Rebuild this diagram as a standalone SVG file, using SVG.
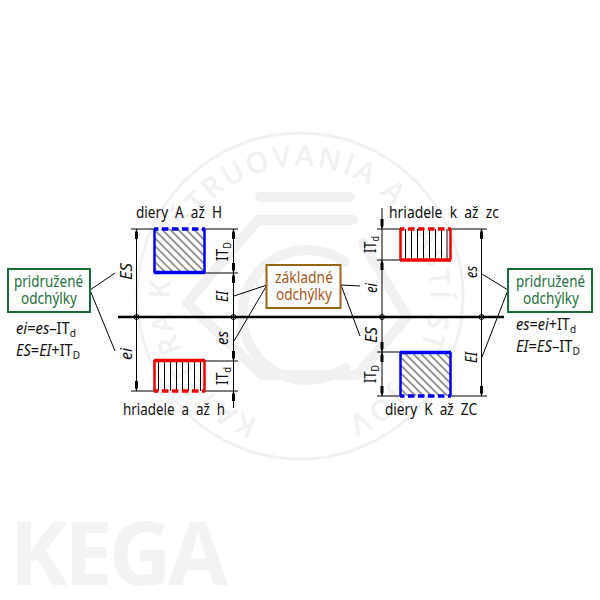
<svg xmlns="http://www.w3.org/2000/svg" width="600" height="600" viewBox="0 0 600 600">
<style>
text{font-family:"Noto Sans","Liberation Sans",sans-serif;font-size:16px;fill:#111}
.i{font-style:italic}
.g{fill:#1f7040}
.b{fill:#a5581a}
.wm{font-family:"Open Sans","Liberation Sans",sans-serif;font-size:29px;fill:#f1f1f1;font-weight:600}
.dim{stroke:#000;stroke-width:1;fill:none}
.ext{stroke:#000;stroke-width:1;fill:none}
.lead{stroke:#000;stroke-width:1;fill:none}
.box{fill:#fff;stroke-width:2}
.mark{fill:none;stroke:#000;stroke-width:1}
.wl{fill:none;stroke:#f1f1f1;stroke-width:10;stroke-linecap:round;stroke-linejoin:round}
.bl{stroke:#0000f0;fill:none}
.rd{stroke:#f00000;fill:none}
.sub{font-size:11px}
</style>
<defs>
<path id="ring" d="M258 419A130 130 0 1 1 342 419"/>
<pattern id="hatch" width="5.600" height="5.600" patternUnits="userSpaceOnUse" patternTransform="rotate(-45)"><line x1="2.800" y1="0" x2="2.800" y2="5.600" stroke="#000" stroke-width="0.800"/></pattern>
<marker id="ah" viewBox="0 0 12 6" refX="12" refY="3" markerWidth="12" markerHeight="6" markerUnits="userSpaceOnUse" orient="auto-start-reverse"><path d="M12 3L8.500 1.500H2V4.500H8.500Z" fill="#000"/></marker>
</defs>
<g id="watermark">
<circle cx="300" cy="296" r="163" fill="none" stroke="#f1f1f1" stroke-width="3"/>
<text class="wm" textLength="725"><textPath href="#ring">KATEDRA KONŠTRUOVANIA A ČASTÍ STROJOV</textPath></text>
<path class="wl" d="M260 197H350M258 220H353M258 220L187 303L262 375H357L407 317L363 243"/>
<path class="wl" d="M345 262A65 65 0 1 0 345 368"/>
<text x="10" y="585" style="font-family:'Open Sans','Noto Sans',sans-serif;font-size:87px;font-weight:700;fill:#f3f3f3" textLength="218">KEGA</text>
</g>
<g id="connectors">
<line x1="118" y1="317" x2="504" y2="317" stroke="#000" stroke-width="2.500"/>
<path class="ext" d="M131 229H154M205 229H238M205 273H238M131 391H154M205 361H238M205 391H238M377 229H400M377 260H400M451 229H487M377 352H400M377 396H400M451 396H487"/>
<line class="dim" x1="136.500" y1="229" x2="136.500" y2="317" marker-start="url(#ah)"/>
<line class="dim" x1="136.500" y1="317" x2="136.500" y2="391" marker-end="url(#ah)"/>
<line class="dim" x1="233.500" y1="229" x2="233.500" y2="273" marker-start="url(#ah)" marker-end="url(#ah)"/>
<line class="dim" x1="233.500" y1="317" x2="233.500" y2="273" marker-end="url(#ah)"/>
<line class="dim" x1="233.500" y1="317" x2="233.500" y2="361" marker-end="url(#ah)"/>
<line class="dim" x1="233.500" y1="361" x2="233.500" y2="391"/>
<line class="dim" x1="233.500" y1="408" x2="233.500" y2="391" marker-end="url(#ah)"/>
<line class="dim" x1="382" y1="208" x2="382" y2="229" marker-end="url(#ah)"/>
<line class="dim" x1="382" y1="229" x2="382" y2="260"/>
<line class="dim" x1="382" y1="317" x2="382" y2="260" marker-end="url(#ah)"/>
<line class="dim" x1="382" y1="317" x2="382" y2="352" marker-end="url(#ah)"/>
<line class="dim" x1="382" y1="352" x2="382" y2="396" marker-start="url(#ah)" marker-end="url(#ah)"/>
<line class="dim" x1="481.500" y1="317" x2="481.500" y2="229" marker-end="url(#ah)"/>
<line class="dim" x1="481.500" y1="317" x2="481.500" y2="396" marker-end="url(#ah)"/>
<path class="lead" d="M115 273L90 290L115 351M234 296L267 285L234 341M360 286L341 285L360 336M482 274L508 290L482 357"/>
<circle class="mark" cx="136.500" cy="317" r="2.500"/><circle class="mark" cx="233.500" cy="317" r="2.500"/><circle class="mark" cx="382" cy="317" r="2.500"/><circle class="mark" cx="481.500" cy="317" r="2.500"/>
</g>
<g id="hole-upper">
<rect x="154.500" y="229" width="50" height="44" fill="#fff"/>
<rect x="154.500" y="229" width="50" height="44" fill="url(#hatch)"/>
<path class="bl" stroke-width="2.500" d="M154.500 229V273M204.500 229V273"/>
<path class="bl" stroke-width="3.500" d="M154 272.500H205"/>
<path class="bl" stroke-width="3.500" stroke-dasharray="4.500 3.400 6.600 3.400 6.600 3.400 6.600 3.400 6.600 3.400 4.500" d="M154 229H205"/>
</g>
<g id="shaft-lower">
<path stroke="#000" stroke-width="1" d="M158.500 361V391M164.500 361V391M170.500 361V391M176.500 361V391M182.500 361V391M188.500 361V391M194.500 361V391M200.500 361V391"/>
<path class="rd" stroke-width="2.500" d="M154.500 360V391M204.500 360V391"/>
<path class="rd" stroke-width="3.500" d="M154 360.500H205"/>
<path class="rd" stroke-width="3.500" stroke-dasharray="4.500 3.400 6.600 3.400 6.600 3.400 6.600 3.400 6.600 3.400 4.500" d="M154 391H205"/>
</g>
<g id="shaft-upper">
<path stroke="#000" stroke-width="1" d="M405.500 229V260M411.500 229V260M417.500 229V260M423.500 229V260M429.500 229V260M435.500 229V260M441.500 229V260M447 229V260"/>
<path class="rd" stroke-width="2.500" d="M400.500 229V260M450.500 229V260"/>
<path class="rd" stroke-width="3.500" d="M400 260H451"/>
<path class="rd" stroke-width="3.500" stroke-dasharray="4.500 3.400 6.600 3.400 6.600 3.400 6.600 3.400 6.600 3.400 4.500" d="M400 229H451"/>
</g>
<g id="hole-lower">
<rect x="400.500" y="352" width="50" height="44" fill="#fff"/>
<rect x="400.500" y="352" width="50" height="44" fill="url(#hatch)"/>
<path class="bl" stroke-width="2.500" d="M400.500 352V396M450.500 352V396"/>
<path class="bl" stroke-width="3.500" d="M400 352.500H451"/>
<path class="bl" stroke-width="3.500" stroke-dasharray="4.500 3.400 6.600 3.400 6.600 3.400 6.600 3.400 6.600 3.400 4.500" d="M400 396H451"/>
</g>
<g id="node-left"><rect class="box" x="8" y="269" width="82" height="43" stroke="#1a6b38"/>
<text class="g" x="14" y="287" textLength="69" lengthAdjust="spacingAndGlyphs">pridružené</text><text class="g" x="21" y="304" textLength="56" lengthAdjust="spacingAndGlyphs">odchýlky</text></g>
<g id="node-center"><rect class="box" x="266.500" y="265" width="74" height="43" stroke="#996515"/>
<text class="b" x="275" y="283" textLength="58" lengthAdjust="spacingAndGlyphs">základné</text><text class="b" x="276" y="300" textLength="56" lengthAdjust="spacingAndGlyphs">odchýlky</text></g>
<g id="node-right"><rect class="box" x="508" y="269" width="84" height="43" stroke="#1a6b38"/>
<text class="g" x="516" y="287" textLength="69" lengthAdjust="spacingAndGlyphs">pridružené</text><text class="g" x="523" y="304" textLength="56" lengthAdjust="spacingAndGlyphs">odchýlky</text></g>
<g id="labels">
<text x="136" y="218" textLength="86" lengthAdjust="spacingAndGlyphs" xml:space="preserve">diery  A  až  H</text>
<text x="123" y="415" textLength="102" lengthAdjust="spacingAndGlyphs" xml:space="preserve">hriadele  a  až  h</text>
<text x="389" y="218" textLength="110" lengthAdjust="spacingAndGlyphs" xml:space="preserve">hriadele  k  až  zc</text>
<text x="385" y="415" textLength="92" lengthAdjust="spacingAndGlyphs" xml:space="preserve">diery  K  až  ZC</text>
<text x="16" y="334" textLength="60" lengthAdjust="spacingAndGlyphs"><tspan class="i">ei</tspan>=<tspan class="i">es</tspan>–IT<tspan dy="3" class="sub">d</tspan></text>
<text x="16" y="356" textLength="64" lengthAdjust="spacingAndGlyphs"><tspan class="i">ES</tspan>=<tspan class="i">EI</tspan>+IT<tspan dy="3" class="sub">D</tspan></text>
<text x="516" y="330" textLength="60" lengthAdjust="spacingAndGlyphs"><tspan class="i">es</tspan>=<tspan class="i">ei</tspan>+IT<tspan dy="3" class="sub">d</tspan></text>
<text x="516" y="352" textLength="64" lengthAdjust="spacingAndGlyphs"><tspan class="i">EI</tspan>=<tspan class="i">ES</tspan>–IT<tspan dy="3" class="sub">D</tspan></text>
<text class="i" transform="translate(132 280) rotate(-90)" textLength="17" lengthAdjust="spacingAndGlyphs">ES</text>
<text class="i" transform="translate(132 360) rotate(-90)" textLength="12" lengthAdjust="spacingAndGlyphs">ei</text>
<text class="i" transform="translate(228 302) rotate(-90)" textLength="11" lengthAdjust="spacingAndGlyphs">EI</text>
<text class="i" transform="translate(228 345) rotate(-90)" textLength="14" lengthAdjust="spacingAndGlyphs">es</text>
<text transform="translate(228 261) rotate(-90)" textLength="19" lengthAdjust="spacingAndGlyphs">IT<tspan dy="3" class="sub">D</tspan></text>
<text transform="translate(228 385) rotate(-90)" textLength="18" lengthAdjust="spacingAndGlyphs">IT<tspan dy="3" class="sub">d</tspan></text>
<text transform="translate(376 253) rotate(-90)" textLength="17" lengthAdjust="spacingAndGlyphs">IT<tspan dy="3" class="sub">d</tspan></text>
<text class="i" transform="translate(377 293) rotate(-90)" textLength="10" lengthAdjust="spacingAndGlyphs">ei</text>
<text class="i" transform="translate(477 278) rotate(-90)" textLength="12" lengthAdjust="spacingAndGlyphs">es</text>
<text class="i" transform="translate(377 343) rotate(-90)" textLength="16" lengthAdjust="spacingAndGlyphs">ES</text>
<text transform="translate(376 383) rotate(-90)" textLength="18" lengthAdjust="spacingAndGlyphs">IT<tspan dy="3" class="sub">D</tspan></text>
<text class="i" transform="translate(477 363) rotate(-90)" textLength="11" lengthAdjust="spacingAndGlyphs">EI</text>
</g>
</svg>
